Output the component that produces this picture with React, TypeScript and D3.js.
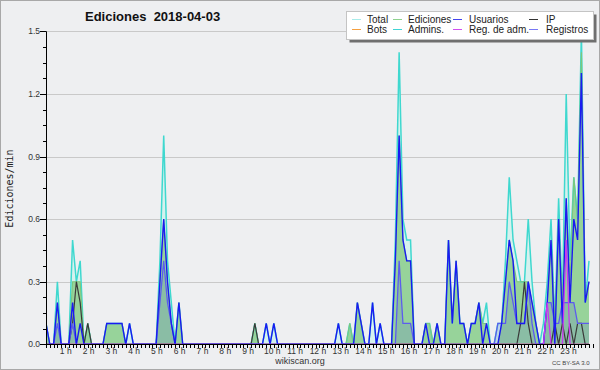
import React from 'react';
import * as d3 from 'd3';

// ---- data: one row per hour, six 10-minute points per row ----
const HOUR_LABELS = d3.range(1, 24).map((h) => `${h} h`);
const Y_TICKS = [0, 0.3, 0.6, 0.9, 1.2, 1.5];

const TOTAL = [
  [0.1, 0, 0, 0.3, 0, 0], [0, 0.5, 0.3, 0.4, 0, 0.1], [0, 0, 0, 0, 0.1, 0.1], [0.1, 0.1, 0.1, 0, 0.1, 0],
  [0, 0, 0, 0, 0, 0], [0.4, 1.0, 0.4, 0.2, 0, 0.2], [0, 0, 0, 0, 0, 0], [0, 0, 0, 0, 0, 0],
  [0, 0, 0, 0, 0, 0], [0, 0.1, 0, 0, 0.1, 0], [0.1, 0, 0, 0, 0, 0], [0, 0, 0, 0, 0, 0],
  [0, 0, 0, 0, 0, 0.1], [0, 0, 0.1, 0, 0.2, 0.1], [0, 0, 0.2, 0, 0.1, 0], [0, 0, 0.5, 1.4, 0.6, 0.5],
  [0.5, 0, 0, 0, 0.1, 0.1], [0, 0.1, 0, 0, 0.5, 0.1], [0.4, 0.1, 0.1, 0, 0.1, 0.1], [0.2, 0.1, 0.2, 0, 0, 0.1],
  [0.1, 0.4, 0.8, 0.5, 0.4, 0.3], [0.3, 0.6, 0.3, 0.1, 0, 0.1], [0.3, 0.6, 0.1, 0.7, 0.2, 1.2], [0.4, 0.8, 0.6, 1.5, 0.2, 0.4],
].flat();

const EDICIONES = [
  [0.1, 0, 0, 0.2, 0, 0], [0, 0.3, 0.3, 0.3, 0, 0.1], [0, 0, 0, 0, 0.1, 0.1], [0.1, 0.1, 0.1, 0, 0, 0],
  [0, 0, 0, 0, 0, 0], [0.3, 0.6, 0.3, 0.1, 0, 0.2], [0, 0, 0, 0, 0, 0], [0, 0, 0, 0, 0, 0],
  [0, 0, 0, 0, 0, 0], [0, 0.1, 0, 0, 0, 0], [0, 0, 0, 0, 0, 0], [0, 0, 0, 0, 0, 0],
  [0, 0, 0, 0, 0, 0], [0, 0, 0.1, 0, 0.2, 0.1], [0, 0, 0, 0, 0, 0], [0, 0, 0.4, 1.0, 0.5, 0.4],
  [0.4, 0, 0, 0, 0.1, 0.1], [0, 0.1, 0, 0, 0.5, 0.1], [0.4, 0.1, 0.1, 0, 0.1, 0.1], [0.2, 0.1, 0.1, 0, 0, 0],
  [0.1, 0.3, 0.5, 0.4, 0.3, 0.3], [0.3, 0.3, 0.2, 0.1, 0, 0], [0.2, 0.5, 0.1, 0.6, 0.2, 0.7], [0.3, 0.8, 0.6, 1.4, 0.2, 0.3],
].flat();

const USUARIOS = [
  [0.1, 0, 0, 0.2, 0, 0], [0, 0.2, 0, 0.1, 0, 0], [0, 0, 0, 0, 0.1, 0.1], [0.1, 0.1, 0.1, 0, 0.1, 0],
  [0, 0, 0, 0, 0, 0], [0.3, 0.6, 0.3, 0.1, 0, 0.2], [0, 0, 0, 0, 0, 0], [0, 0, 0, 0, 0, 0],
  [0, 0, 0, 0, 0, 0], [0, 0, 0, 0, 0.1, 0], [0.1, 0, 0, 0, 0, 0], [0, 0, 0, 0, 0, 0],
  [0, 0, 0, 0, 0, 0.1], [0, 0, 0, 0, 0.2, 0.1], [0, 0, 0.2, 0, 0.1, 0], [0, 0, 0.4, 1.0, 0.5, 0.4],
  [0.4, 0, 0, 0, 0.1, 0], [0, 0.1, 0, 0, 0.5, 0.1], [0.4, 0.1, 0.1, 0, 0.1, 0.1], [0.2, 0, 0.1, 0, 0, 0],
  [0.1, 0.3, 0.5, 0.4, 0.1, 0.1], [0.1, 0.3, 0.2, 0.1, 0, 0], [0.2, 0.5, 0, 0.6, 0.1, 0.7], [0.2, 0.6, 0.5, 1.3, 0.2, 0.3],
].flat();

const IP = [
  [0, 0, 0, 0, 0, 0], [0, 0.1, 0.3, 0.2, 0, 0.1], [0, 0, 0, 0, 0, 0], [0, 0, 0, 0, 0, 0],
  [0, 0, 0, 0, 0, 0], [0, 0, 0, 0, 0, 0], [0, 0, 0, 0, 0, 0], [0, 0, 0, 0, 0, 0],
  [0, 0, 0, 0, 0, 0], [0, 0.1, 0, 0, 0, 0], [0, 0, 0, 0, 0, 0], [0, 0, 0, 0, 0, 0],
  [0, 0, 0, 0, 0, 0], [0, 0, 0, 0, 0, 0], [0, 0, 0, 0, 0, 0], [0, 0, 0, 0, 0, 0],
  [0, 0, 0, 0, 0, 0], [0, 0, 0, 0, 0, 0], [0, 0, 0, 0, 0, 0], [0, 0, 0, 0, 0, 0],
  [0, 0, 0, 0, 0, 0.1], [0.3, 0.1, 0, 0, 0, 0], [0, 0, 0.1, 0, 0.1, 0], [0.1, 0, 0.1, 0.1, 0, 0],
].flat();

const BOTS = d3.range(144).map(() => 0);

const REGISTROS = [
  [0, 0, 0, 0.1, 0, 0], [0, 0.1, 0, 0, 0, 0], [0, 0, 0, 0, 0, 0], [0, 0, 0, 0, 0, 0],
  [0, 0, 0, 0, 0, 0], [0.2, 0.4, 0.2, 0.1, 0, 0], [0, 0, 0, 0, 0, 0], [0, 0, 0, 0, 0, 0],
  [0, 0, 0, 0, 0, 0], [0, 0, 0, 0, 0, 0], [0, 0, 0, 0, 0, 0], [0, 0, 0, 0, 0, 0],
  [0, 0, 0, 0, 0, 0], [0, 0, 0, 0, 0, 0], [0, 0, 0, 0, 0, 0], [0, 0, 0, 0.4, 0.1, 0.1],
  [0.1, 0, 0, 0, 0, 0], [0, 0, 0, 0, 0, 0], [0, 0, 0, 0, 0, 0], [0, 0, 0, 0, 0, 0.1],
  [0.1, 0.1, 0.3, 0.2, 0.1, 0.1], [0.1, 0.3, 0.1, 0, 0, 0], [0.2, 0.2, 0.1, 0.1, 0.2, 0.2], [0.2, 0.2, 0.1, 0.1, 0.1, 0.1],
].flat();

const REG_ADM = [
  ...d3.range(132).map(() => 0),
  0.2, 0, 0, 0, 0, 0.5,
  0, 0, 0, 0, 0, 0,
];

const LEGEND_NAMES = ['Total', 'Ediciones', 'Usuarios', 'IP', 'Bots', 'Admins.', 'Reg. de adm.', 'Registros'];
const LEGEND_COLORS = ['#a8ecea', '#8fd28f', '#4444ee', '#333333', '#f5a040', '#40d4d4', '#d050f0', '#7878f4'];

const W = 600;
const H = 370;
const M = { left: 46, right: 589, top: 31.3, bottom: 344.3 };

export default function App() {
  const n = TOTAL.length;
  const x = d3.scaleLinear().domain([0, n - 1]).range([M.left, M.right]);
  const y = d3.scaleLinear().domain([0, 1.5]).range([M.bottom, M.top]);

  const line = d3.line<number>().x((_, i) => x(i)).y((d) => y(d));
  const area = d3.area<number>().x((_, i) => x(i)).y0(y(0)).y1((d) => y(d));

  const minorY = d3.range(0, 1.5001, 0.075);
  const minorX = d3.range(0, n + 1);

  const font = "'Liberation Sans', Arial, sans-serif";

  const lines: [number[], string, number][] = [
    [TOTAL, '#3fd8cf', 1.5],
    [EDICIONES, '#7cc87c', 1.1],
    [BOTS, '#f0a040', 1.1],
    [IP, '#3a3a3a', 1.2],
    [REGISTROS, '#5c5cee', 1.3],
    [USUARIOS, '#1a1af2', 1.4],
    [REG_ADM, '#c838f0', 1.3],
  ];

  const legendCols = [352, 393, 453, 529];
  const legendTextX = [367, 408, 469, 546];

  return (
    <svg
      width={W}
      height={H}
      style={{ position: 'absolute', left: 0, top: 0, display: 'block' }}
      fontFamily={font}
    >
      <defs>
        <clipPath id="plot">
          <rect x={M.left} y={M.top - 2} width={M.right - M.left + 1} height={M.bottom - M.top + 2} />
        </clipPath>
      </defs>
      <rect x={0.5} y={0.5} width={W - 1} height={H - 1} fill="#eeeff1" stroke="#a8a8a8" />

      {/* grid */}
      {Y_TICKS.slice(1).map((t) => (
        <line key={t} x1={M.left} x2={M.right} y1={Math.round(y(t)) + 0.5} y2={Math.round(y(t)) + 0.5} stroke="#c9c9c9" />
      ))}

      {/* areas and lines */}
      <g clipPath="url(#plot)">
        <path d={area(TOTAL) || ''} fill="#d6f1ee" />
        <path d={area(EDICIONES) || ''} fill="#97d39a" />
        <path d={area(REGISTROS) || ''} fill="#5a6ad0" fillOpacity={0.2} />
        {lines.map(([data, color, w], k) => (
          <path key={k} d={line(data) || ''} fill="none" stroke={color} strokeWidth={w} strokeLinejoin="miter" />
        ))}
      </g>

      {/* y axis */}
      <line x1={M.left + 0.5} x2={M.left + 0.5} y1={M.top} y2={M.bottom + 0.5} stroke="#000" />
      {minorY.map((t) => (
        <line key={t} x1={M.left - 3} x2={M.left} y1={Math.round(y(t)) + 0.5} y2={Math.round(y(t)) + 0.5} stroke="#000" />
      ))}
      {Y_TICKS.map((t) => (
        <g key={t}>
          <line x1={M.left - 6} x2={M.left} y1={Math.round(y(t)) + 0.5} y2={Math.round(y(t)) + 0.5} stroke="#000" />
          <text x={40} y={y(t) + 3} textAnchor="end" fontSize={8.5} fill="#333">
            {t.toFixed(1)}
          </text>
        </g>
      ))}
      <text
        transform={`translate(13,${(150 + 227) / 2}) rotate(-90)`}
        textAnchor="middle"
        fontSize={10}
        fontFamily="'DejaVu Sans Mono', monospace"
        fill="#222"
      >
        Ediciones/min
      </text>

      {/* x axis */}
      <line x1={M.left} x2={M.right + 1} y1={344.5} y2={344.5} stroke="#000" />
      {minorX.map((i) => (
        <line key={i} x1={Math.round(x(i)) + 0.5} x2={Math.round(x(i)) + 0.5} y1={344} y2={348} stroke="#000" />
      ))}
      {HOUR_LABELS.map((lab, k) => (
        <text
          key={lab}
          x={x((k + 1) * 6) - (lab.length > 3 ? 1.5 : 3)}
          y={353.5}
          textAnchor="middle"
          fontSize={8.5}
          fill="#333"
        >
          {lab}
        </text>
      ))}
      <text x={300} y={364} textAnchor="middle" fontSize={9} fill="#333">
        wikiscan.org
      </text>
      <text x={589.5} y={364.5} textAnchor="end" fontSize={6} fill="#444">
        CC BY-SA 3.0
      </text>

      {/* title */}
      <text x={85} y={20.5} fontSize={13} fontWeight="bold" fill="#111" style={{ whiteSpace: 'pre' }}>
        {'Ediciones  2018-04-03'}
      </text>

      {/* legend */}
      <rect x={349.5} y={14.5} width={247} height={28} fill="#6f6f6f" />
      <rect x={346.5} y={11.5} width={247} height={28} fill="#fff" stroke="#c4c4c4" />
      {LEGEND_NAMES.map((name, k) => {
        const col = k % 4;
        const row = Math.floor(k / 4);
        const ly = row === 0 ? 19.5 : 29.5;
        return (
          <g key={name}>
            <line x1={legendCols[col]} x2={legendCols[col] + 9} y1={ly} y2={ly} stroke={LEGEND_COLORS[k]} strokeWidth={1} />
            <text x={legendTextX[col]} y={ly + 3.8} fontSize={10} fill="#222">
              {name}
            </text>
          </g>
        );
      })}
    </svg>
  );
}
